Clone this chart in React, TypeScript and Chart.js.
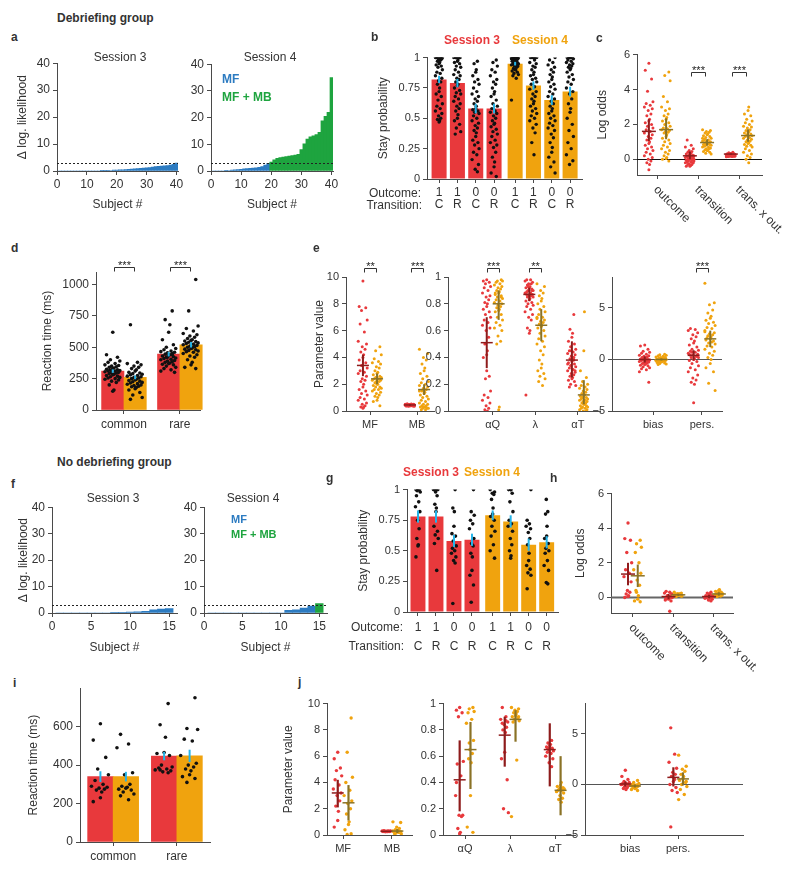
import React, { useEffect, useRef } from 'react';
import { Chart, registerables } from 'chart.js';

Chart.register(...registerables);

const FONT = 'Arial, "Liberation Sans", Helvetica, sans-serif';
Chart.defaults.font.family = FONT;
Chart.defaults.font.size = 11;
Chart.defaults.color = '#333';

const RED = '#E8393C';
const ORANGE = '#F0A30E';
const RED_D = '#8E1C1C';
const ORANGE_D = '#8A7226';
const CYAN = '#25B4E8';
const BLUE = '#2C7BC1';
const GREEN = '#1EA43F';
const AXIS = '#4a4a4a';
const TXT = '#333';
const DOT = '#111';

// ---------------- data ----------------
const THRESH = 3;
const LL_TICKS = [0, 10, 20, 30, 40];
const SUBJ_TICKS_A = [0, 10, 20, 30, 40];
const SUBJ_TICKS_F = [0, 5, 10, 15];
const A_S3 = [0, 0, 0, 0, 0, 0, 0, 0, 0, 0, 0, 0, 0, 0, 0.05, 0.1, 0.15, 0.2, 0.3, 0.35, 0.4, 0.45, 0.5, 0.6, 0.7, 0.8, 0.9, 1.0, 1.1, 1.2, 1.3, 1.45, 1.6, 1.7, 1.8, 1.9, 2.0, 2.2, 2.5, 2.9];
const A_S4 = [0, 0, 0, 0, 0.1, 0.2, 0.3, 0.4, 0.5, 0.6, 0.8, 0.9, 1.0, 1.1, 1.2, 1.4, 1.7, 2.2, 2.9, 3.3, 4.2, 4.7, 5.0, 5.2, 5.4, 5.6, 5.8, 6.0, 6.2, 8.0, 10.2, 12.0, 12.8, 13.2, 13.6, 14.5, 18.8, 20.5, 22.0, 35.0];
const F_S3 = [0, 0, 0, 0, 0, 0, 0, 0.15, 0.25, 0.35, 0.45, 0.6, 1.2, 1.5, 1.7];
const F_S4 = [0, 0, 0, 0, 0, 0, 0, 0, 0, 0, 1.0, 1.2, 1.9, 2.6, 3.6];

const STAY_OUT = ['1', '1', '0', '0', '1', '1', '0', '0'];
const STAY_TR = ['C', 'R', 'C', 'R', 'C', 'R', 'C', 'R'];
const STAY_SESSION = [3, 3, 3, 3, 4, 4, 4, 4];
const STAY_TICKS = [0, 0.25, 0.5, 0.75, 1];
const B_MEAN = [0.82, 0.79, 0.58, 0.58, 0.95, 0.77, 0.65, 0.72];
const B_SEM = [0.03, 0.035, 0.04, 0.04, 0.015, 0.035, 0.04, 0.04];
const B_DOTS = [
  [1, 1, 1, 1, 1, 1, 1, 1, .99, .98, .98, .97, .96, .95, .94, .93, .92, .9, .88, .87, .85, .83, .81, .8, .78, .75, .72, .7, .68, .65, .62, .6, .58, .56, .54, .52, .5, .49, .48, .47],
  [1, 1, 1, 1, 1, 1, 1, .98, .97, .96, .95, .93, .92, .9, .88, .86, .85, .83, .82, .8, .78, .77, .75, .73, .71, .7, .68, .66, .64, .62, .6, .58, .56, .53, .5, .48, .45, .42, .39, .37],
  [.97, .95, .9, .88, .85, .82, .8, .78, .75, .72, .7, .68, .66, .64, .62, .6, .58, .57, .56, .55, .54, .52, .5, .48, .46, .44, .42, .4, .38, .35, .32, .3, .28, .25, .22, .2, .16, .12, .08, .06],
  [.98, .96, .93, .9, .88, .85, .82, .8, .78, .75, .72, .7, .68, .65, .62, .6, .58, .56, .55, .54, .52, .5, .48, .46, .45, .43, .41, .39, .37, .35, .32, .3, .28, .26, .22, .18, .14, .1, .05, .02],
  [1, 1, 1, 1, 1, 1, 1, 1, 1, 1, 1, 1, .99, .99, .99, .98, .98, .98, .97, .97, .97, .96, .96, .95, .95, .94, .94, .93, .93, .92, .91, .9, .9, .89, .88, .87, .86, .85, .83, .65],
  [1, 1, 1, 1, 1, 1, 1, .98, .96, .95, .93, .92, .9, .88, .86, .85, .83, .82, .8, .78, .76, .74, .72, .7, .68, .66, .64, .62, .6, .58, .56, .54, .52, .5, .48, .45, .42, .38, .3, .2],
  [1, .98, .96, .94, .92, .9, .88, .86, .84, .82, .8, .78, .76, .74, .72, .7, .68, .66, .64, .62, .6, .58, .56, .54, .52, .5, .48, .46, .44, .42, .4, .37, .34, .3, .26, .22, .18, .14, .1, .05],
  [1, 1, 1, 1, 1, 1, 1, 1, .99, .98, .97, .96, .95, .94, .93, .92, .91, .9, .88, .86, .84, .82, .8, .78, .75, .72, .7, .66, .62, .58, .55, .5, .45, .4, .35, .3, .25, .2, .15, .12],
];
const G_MEAN = [0.78, 0.78, 0.58, 0.59, 0.79, 0.74, 0.55, 0.57];
const G_SEM = [0.05, 0.05, 0.05, 0.05, 0.04, 0.05, 0.05, 0.05];
const G_DOTS = [
  [1, 1, 1, .99, .98, .95, .9, .86, .82, .75, .68, .6, .55, .54, .45],
  [1, 1, 1, 1, .98, .95, .88, .85, .82, .7, .66, .63, .6, .56, .34],
  [1, .85, .82, .7, .64, .62, .58, .54, .52, .5, .48, .45, .42, .4, .07],
  [1, .82, .79, .75, .72, .68, .6, .56, .54, .48, .45, .34, .3, .22, .08],
  [1, .98, .97, .96, .92, .85, .8, .78, .75, .7, .66, .62, .55, .5, .44],
  [1, 1, 1, .97, .9, .82, .75, .72, .7, .66, .6, .55, .5, .46, .44],
  [1, .75, .72, .7, .68, .65, .6, .55, .48, .42, .38, .35, .32, .3, .19],
  [.92, .82, .8, .7, .62, .6, .56, .52, .5, .48, .42, .38, .34, .24, .23],
];

const LO_CATS = ['outcome', 'transition', 'trans. x out.'];
const LO_TICKS = [0, 2, 4, 6];
const C_S3 = [
  [5.5, 5.1, 4.6, 3.9, 3.3, 3.2, 3.1, 3.0, 2.9, 2.8, 2.6, 2.5, 2.3, 2.2, 2.1, 2.0, 1.9, 1.8, 1.7, 1.6, 1.5, 1.4, 1.3, 1.2, 1.1, 1.0, 0.9, 0.8, 0.7, 0.6, 0.5, 0.4, 0.3, 0.2, 0.1, 0.0, -0.1, -0.2, -0.3, -0.6],
  [1.1, 0.8, 0.7, 0.6, 0.5, 0.45, 0.4, 0.35, 0.3, 0.3, 0.25, 0.2, 0.2, 0.15, 0.15, 0.1, 0.1, 0.05, 0.05, 0, 0, 0, -0.05, -0.05, -0.1, -0.1, -0.15, -0.15, -0.2, -0.2, -0.25, -0.3, -0.3, -0.35, -0.4, -0.4, 0.1, 0.2, 0.0, -0.1],
  [0.4, 0.38, 0.35, 0.33, 0.32, 0.3, 0.3, 0.29, 0.28, 0.28, 0.27, 0.27, 0.26, 0.26, 0.25, 0.25, 0.25, 0.24, 0.24, 0.23, 0.23, 0.22, 0.22, 0.21, 0.21, 0.2, 0.2, 0.2, 0.19, 0.19, 0.18, 0.18, 0.17, 0.17, 0.16, 0.16, 0.15, 0.3, 0.25, 0.22],
];
const C_S4 = [
  [5.0, 4.8, 4.5, 3.6, 3.3, 3.0, 2.9, 2.8, 2.6, 2.5, 2.4, 2.3, 2.2, 2.1, 2.0, 1.9, 1.8, 1.75, 1.7, 1.65, 1.6, 1.55, 1.5, 1.4, 1.3, 1.2, 1.1, 1.0, 0.9, 0.8, 0.7, 0.6, 0.5, 0.4, 0.3, 0.2, 0.1, 0.05, 0.0, -0.1],
  [1.7, 1.65, 1.6, 1.55, 1.5, 1.45, 1.4, 1.35, 1.3, 1.25, 1.2, 1.15, 1.1, 1.05, 1.0, 1.0, 0.95, 0.95, 0.9, 0.9, 0.85, 0.85, 0.8, 0.8, 0.75, 0.7, 0.7, 0.65, 0.6, 0.6, 0.55, 0.5, 0.5, 0.45, 0.4, 0.35, 0.3, 1.1, 0.9, 1.2],
  [3.0, 2.8, 2.6, 2.5, 2.3, 2.2, 2.1, 2.0, 1.9, 1.85, 1.8, 1.7, 1.65, 1.6, 1.55, 1.5, 1.45, 1.4, 1.35, 1.3, 1.25, 1.2, 1.15, 1.1, 1.05, 1.0, 0.95, 0.9, 0.85, 0.8, 0.75, 0.7, 0.6, 0.5, 0.4, 0.3, 0.2, 0.1, 0.0, -0.2],
];
const C_M3 = [1.6, 0.2, 0.3];
const C_CI3 = [[1.05, 2.3], [0.0, 0.45], [0.25, 0.35]];
const C_M4 = [1.7, 0.96, 1.36];
const C_CI4 = [[1.15, 2.35], [0.78, 1.15], [1.0, 1.72]];
const C_SIG = ['', '***', '***'];

const H_S3 = [
  [4.3, 3.4, 3.3, 2.6, 2.0, 1.6, 1.4, 1.2, 0.9, 0.4, 0.3, 0.2, 0.1, 0.05, 0.0],
  [0.35, 0.3, 0.25, 0.2, 0.1, 0.05, 0, -0.05, -0.1, -0.15, -0.2, 0.1, 0.0, -0.05, -0.8],
  [0.3, 0.25, 0.2, 0.15, 0.1, 0.1, 0.05, 0.05, 0, 0, -0.05, -0.1, -0.15, -0.2, 0.05],
];
const H_S4 = [
  [3.3, 3.1, 2.9, 2.6, 2.0, 1.6, 1.4, 1.0, 0.7, 0.4, 0.1, -0.1, -0.2, -0.25, 0.3],
  [0.3, 0.25, 0.22, 0.2, 0.18, 0.15, 0.15, 0.12, 0.1, 0.1, 0.08, 0.05, 0.2, 0.15, 0.1],
  [0.45, 0.4, 0.35, 0.3, 0.25, 0.22, 0.2, 0.18, 0.15, 0.12, 0.1, 0.08, 0.05, 0.3, 0.2],
];
const H_M3 = [1.35, 0.05, 0.05];
const H_CI3 = [[0.7, 2.0], [-0.1, 0.2], [-0.05, 0.15]];
const H_M4 = [1.25, 0.15, 0.2];
const H_CI4 = [[0.6, 1.9], [0.08, 0.22], [0.1, 0.3]];

const RT_CATS = ['common', 'rare'];
const D_TICKS = [0, 250, 500, 750, 1000];
const D_M3 = [310, 445];
const D_M4 = [260, 520];
const D_SEM3 = [14, 18];
const D_SEM4 = [15, 22];
const D_S3 = [
  [620, 440, 420, 400, 390, 380, 370, 360, 355, 350, 345, 340, 335, 330, 325, 320, 318, 315, 312, 310, 305, 300, 298, 295, 290, 285, 280, 275, 270, 265, 260, 255, 250, 245, 240, 230, 220, 200, 160, 150],
  [790, 720, 680, 620, 560, 520, 500, 490, 480, 470, 465, 460, 455, 450, 445, 440, 435, 430, 425, 420, 415, 410, 405, 400, 395, 390, 385, 380, 375, 370, 365, 360, 350, 340, 330, 320, 310, 300, 420, 440],
];
const D_S4 = [
  [680, 380, 370, 360, 350, 340, 330, 320, 310, 300, 295, 290, 285, 280, 275, 270, 265, 260, 255, 250, 245, 240, 235, 230, 225, 220, 215, 210, 205, 200, 195, 190, 185, 180, 170, 160, 140, 120, 100, 85],
  [1040, 790, 670, 650, 630, 610, 600, 590, 580, 570, 560, 555, 550, 545, 540, 535, 530, 525, 520, 515, 510, 505, 500, 495, 490, 485, 480, 475, 470, 465, 460, 450, 440, 430, 420, 400, 380, 360, 340, 330],
];
const D_SIG = ['***', '***'];
const I_TICKS = [0, 200, 400, 600];
const I_M3 = [340, 447];
const I_M4 = [340, 448];
const I_SEM3 = [28, 22];
const I_SEM4 = [25, 32];
const I_S3 = [
  [615, 530, 440, 380, 350, 320, 300, 290, 285, 280, 275, 270, 260, 230, 210],
  [720, 610, 545, 465, 460, 450, 400, 390, 385, 380, 375, 370, 365, 360, 375],
];
const I_S4 = [
  [560, 510, 490, 360, 350, 300, 290, 285, 280, 275, 270, 260, 250, 240, 220],
  [750, 590, 585, 535, 525, 450, 410, 400, 390, 380, 370, 350, 340, 330, 310],
];

const P1_CATS = ['MF', 'MB'];
const P2_CATS = ['\u03b1Q', '\u03bb', '\u03b1T'];
const P3_CATS = ['bias', 'pers.'];
const P1_TICKS = [0, 2, 4, 6, 8, 10];
const P2_TICKS = [0, 0.2, 0.4, 0.6, 0.8, 1];
const P3_TICKS = [-5, 0, 5];

const E1_S3 = [
  [9.7, 7.8, 7.7, 7.5, 6.8, 6.5, 5.9, 5.2, 5.0, 4.8, 4.6, 4.4, 4.2, 4.0, 3.8, 3.6, 3.4, 3.2, 3.0, 2.9, 2.8, 2.6, 2.4, 2.3, 2.2, 2.0, 1.8, 1.6, 1.5, 1.3, 1.2, 1.0, 0.9, 0.8, 0.6, 0.5, 0.4, 0.3, 0.3, 0.2],
  [0.55, 0.52, 0.5, 0.5, 0.48, 0.48, 0.47, 0.46, 0.46, 0.45, 0.45, 0.45, 0.44, 0.44, 0.43, 0.43, 0.42, 0.42, 0.41, 0.4, 0.4, 0.39, 0.38, 0.37, 0.36, 0.35, 0.45, 0.46, 0.47, 0.44, 0.43, 0.42, 0.48, 0.5, 0.41, 0.4, 0.45, 0.44, 0.46, 0.43],
];
const E1_S4 = [
  [4.8, 4.5, 4.2, 3.9, 3.7, 3.6, 3.5, 3.3, 3.2, 3.0, 2.9, 2.8, 2.7, 2.6, 2.5, 2.5, 2.4, 2.4, 2.3, 2.3, 2.2, 2.2, 2.1, 2.0, 2.0, 1.9, 1.8, 1.8, 1.7, 1.6, 1.6, 1.5, 1.4, 1.3, 1.2, 1.1, 1.0, 0.8, 0.7, 0.4],
  [4.6, 4.3, 4.0, 3.8, 3.5, 3.2, 3.0, 2.8, 2.6, 2.4, 2.2, 2.1, 2.0, 1.9, 1.8, 1.7, 1.6, 1.5, 1.4, 1.3, 1.2, 1.1, 1.0, 0.9, 0.8, 0.7, 0.6, 0.5, 0.5, 0.4, 0.4, 0.3, 0.3, 0.3, 0.2, 0.2, 0.2, 0.1, 0.1, 1.5],
];
const E1_M3 = [3.4, 0.45];
const E1_CI3 = [[2.6, 4.2], [0.4, 0.5]];
const E1_M4 = [2.4, 1.6];
const E1_CI4 = [[2.0, 2.8], [1.2, 2.0]];
const E1_SIG = ['**', '***'];

const E2_S3 = [
  [0.98, 0.97, 0.96, 0.95, 0.93, 0.92, 0.9, 0.88, 0.86, 0.85, 0.83, 0.81, 0.8, 0.78, 0.76, 0.74, 0.72, 0.7, 0.68, 0.66, 0.64, 0.62, 0.6, 0.55, 0.5, 0.45, 0.42, 0.4, 0.26, 0.24, 0.15, 0.12, 0.1, 0.08, 0.06, 0.04, 0.02, 0.01, 0.0, 0.3],
  [0.98, 0.98, 0.97, 0.96, 0.95, 0.95, 0.94, 0.93, 0.92, 0.92, 0.91, 0.9, 0.9, 0.89, 0.88, 0.88, 0.87, 0.86, 0.86, 0.85, 0.84, 0.83, 0.82, 0.81, 0.8, 0.79, 0.78, 0.76, 0.74, 0.72, 0.7, 0.68, 0.62, 0.6, 0.58, 0.12, 0.9, 0.93, 0.85, 0.87],
  [0.72, 0.61, 0.58, 0.55, 0.52, 0.5, 0.48, 0.46, 0.45, 0.44, 0.43, 0.42, 0.41, 0.4, 0.39, 0.38, 0.37, 0.36, 0.35, 0.34, 0.33, 0.32, 0.31, 0.3, 0.29, 0.28, 0.27, 0.26, 0.25, 0.24, 0.23, 0.22, 0.2, 0.19, 0.18, 0.4, 0.35, 0.3, 0.45, 0.38],
];
const E2_S4 = [
  [0.98, 0.97, 0.97, 0.96, 0.95, 0.94, 0.93, 0.92, 0.91, 0.9, 0.89, 0.88, 0.87, 0.86, 0.85, 0.84, 0.83, 0.82, 0.81, 0.8, 0.79, 0.78, 0.77, 0.76, 0.75, 0.74, 0.72, 0.7, 0.68, 0.66, 0.64, 0.62, 0.6, 0.56, 0.52, 0.5, 0.03, 0.01, 0.88, 0.85],
  [0.95, 0.93, 0.9, 0.88, 0.86, 0.84, 0.82, 0.8, 0.78, 0.76, 0.74, 0.72, 0.7, 0.69, 0.68, 0.67, 0.66, 0.65, 0.64, 0.63, 0.62, 0.6, 0.58, 0.56, 0.54, 0.52, 0.5, 0.48, 0.45, 0.42, 0.38, 0.35, 0.32, 0.3, 0.28, 0.26, 0.24, 0.22, 0.19, 0.7],
  [0.74, 0.45, 0.3, 0.25, 0.22, 0.2, 0.19, 0.18, 0.17, 0.16, 0.15, 0.14, 0.13, 0.12, 0.12, 0.11, 0.1, 0.1, 0.09, 0.09, 0.08, 0.08, 0.07, 0.07, 0.06, 0.06, 0.05, 0.05, 0.04, 0.04, 0.03, 0.03, 0.02, 0.02, 0.01, 0.01, 0.0, 0.0, 0.1, 0.12],
];
const E2_M3 = [0.51, 0.87, 0.38];
const E2_CI3 = [[0.32, 0.7], [0.82, 0.92], [0.25, 0.52]];
const E2_M4 = [0.8, 0.64, 0.12];
const E2_CI4 = [[0.68, 0.9], [0.52, 0.76], [0.05, 0.23]];
const E2_SIG = ['***', '**', ''];

const E3_S3 = [
  [1.4, 1.3, 1.0, 0.8, 0.7, 0.6, 0.5, 0.4, 0.35, 0.3, 0.25, 0.2, 0.15, 0.1, 0.05, 0, 0, -0.05, -0.1, -0.15, -0.2, -0.25, -0.3, -0.35, -0.4, -0.45, -0.5, -0.55, -0.6, -0.7, -0.8, -0.9, -1.0, -1.2, -2.2, 0.1, -0.1, 0.2, -0.2, 0],
  [3.0, 2.9, 2.8, 2.6, 2.4, 2.2, 2.0, 1.8, 1.6, 1.4, 1.2, 1.0, 0.9, 0.8, 0.7, 0.6, 0.5, 0.4, 0.3, 0.2, 0.1, 0, -0.1, -0.2, -0.4, -0.6, -0.8, -1.0, -1.2, -1.5, -1.8, -2.0, -2.2, -2.4, -4.2, 0.5, 0.3, 0.7, 0.2, 0.4],
];
const E3_S4 = [
  [0.5, 0.45, 0.4, 0.35, 0.3, 0.25, 0.2, 0.18, 0.15, 0.12, 0.1, 0.08, 0.05, 0.03, 0, 0, -0.03, -0.05, -0.08, -0.1, -0.12, -0.15, -0.18, -0.2, -0.25, -0.3, -0.35, -0.4, -0.45, -0.5, 0.1, -0.1, 0.05, -0.05, 0.2, -0.2, 0.15, -0.15, 0, 0],
  [7.4, 5.5, 5.3, 4.8, 4.5, 4.2, 4.0, 3.8, 3.6, 3.5, 3.3, 3.1, 3.0, 2.8, 2.6, 2.5, 2.4, 2.3, 2.2, 2.0, 1.9, 1.8, 1.6, 1.5, 1.3, 1.2, 1.0, 0.8, 0.6, 0.4, 0.2, 0.0, -0.4, -0.8, -1.2, -2.3, -3.0, 2.1, 1.7, 2.7],
];
const E3_M3 = [0, 0.4];
const E3_CI3 = [[-0.3, 0.3], [-0.1, 0.9]];
const E3_M4 = [0, 2.0];
const E3_CI4 = [[-0.1, 0.1], [1.2, 2.8]];
const E3_SIG = ['', '***'];

const J1_S3 = [
  [6.3, 5.8, 5.1, 4.9, 4.5, 4.2, 3.8, 3.5, 3.2, 3.0, 2.6, 2.2, 1.8, 1.1, 0.6],
  [0.32, 0.3, 0.3, 0.29, 0.29, 0.28, 0.28, 0.27, 0.27, 0.26, 0.26, 0.25, 0.3, 0.28, 0.27],
];
const J1_S4 = [
  [8.9, 6.3, 4.4, 4.0, 3.4, 3.0, 2.6, 2.4, 2.0, 1.6, 1.0, 0.8, 0.4, 0.1, 0.05],
  [1.0, 0.95, 0.6, 0.5, 0.4, 0.35, 0.3, 0.25, 0.2, 0.15, 0.1, 0.1, 0.2, 0.3, 0.25],
];
const J1_M3 = [3.2, 0.28];
const J1_CI3 = [[2.1, 4.2], [0.26, 0.3]];
const J1_M4 = [2.45, 0.3];
const J1_CI4 = [[1.1, 3.8], [0.15, 0.45]];

const J2_S3 = [
  [0.97, 0.95, 0.93, 0.9, 0.56, 0.54, 0.45, 0.3, 0.15, 0.15, 0.14, 0.05, 0.02, 0.01, 0.4],
  [0.97, 0.9, 0.88, 0.86, 0.84, 0.82, 0.8, 0.78, 0.63, 0.58, 0.42, 0.2, 0.17, 0.85, 0.87],
  [0.72, 0.7, 0.69, 0.68, 0.67, 0.66, 0.65, 0.64, 0.63, 0.62, 0.6, 0.58, 0.55, 0.52, 0.66],
];
const J2_S4 = [
  [0.97, 0.96, 0.94, 0.93, 0.88, 0.85, 0.72, 0.65, 0.62, 0.58, 0.55, 0.3, 0.06, 0.02, 0.7],
  [0.97, 0.96, 0.95, 0.94, 0.93, 0.92, 0.91, 0.9, 0.89, 0.88, 0.87, 0.86, 0.57, 0.14, 0.9],
  [0.4, 0.38, 0.37, 0.36, 0.35, 0.35, 0.34, 0.34, 0.33, 0.32, 0.3, 0.28, 0.27, 0.25, 0.36],
];
const J2_M3 = [0.42, 0.76, 0.65];
const J2_CI3 = [[0.18, 0.72], [0.52, 0.9], [0.37, 0.85]];
const J2_M4 = [0.65, 0.88, 0.34];
const J2_CI4 = [[0.35, 0.86], [0.71, 0.95], [0.15, 0.6]];

const J3_S3 = [
  [1.4, 0.8, 0.5, 0.3, 0.2, 0.1, 0.05, 0, -0.1, -0.2, -0.3, -0.4, -0.5, 0.15, 0],
  [5.6, 3.0, 2.2, 1.6, 1.2, 1.0, 0.8, 0.6, 0.3, 0, -0.3, -0.6, -0.8, -4.2, 0.5],
];
const J3_S4 = [
  [0.4, 0.2, 0.1, 0, -0.05, -0.1, -0.15, -0.2, -0.25, -0.3, -0.35, -0.4, -0.5, -0.6, -0.1],
  [2.9, 1.8, 1.5, 1.3, 1.0, 0.8, 0.6, 0.4, 0.2, 0, -0.2, -0.5, -1.0, -1.5, 0.3],
];
const J3_M3 = [0.05, 0.7];
const J3_CI3 = [[-0.2, 0.3], [-0.2, 1.7]];
const J3_M4 = [-0.15, 0.55];
const J3_CI4 = [[-0.3, 0], [-0.1, 1.2]];

// ---------------- helpers ----------------
const JIT = [0, -0.8, 0.6, -0.3, 0.9, -0.6, 0.3, -1, 0.75, -0.15, 0.45, -0.45, 0.15];
const jit = (j: number, g: number) => JIT[(j + g * 5) % JIT.length];
const fmt = (v: number) => (v < 0 ? '\u2212' + Math.abs(v) : String(v));

type Geo = { x0: number; x1: number; yTop: number; yBot: number; L: number; B: number; padT?: number; padR?: number };
type Box = { left: number; top: number; width: number; height: number };

function boxOf(g: Geo): Box {
  const padT = g.padT ?? 8;
  const padR = g.padR ?? 8;
  return { left: g.L, top: g.yTop - padT, width: g.x1 + padR - g.L, height: g.B - (g.yTop - padT) };
}

type AxisSpec = {
  min: number; max: number; ticks: number[]; labels?: any[]; title?: string;
  pad?: number; size?: number; lineHeight?: any; hideLabels?: boolean; titleSize?: number;
};

function makeOptions(g: Geo, xs: AxisSpec, ys: AxisSpec) {
  const padT = g.padT ?? 8;
  const padR = g.padR ?? 8;
  const title = (t?: string, size?: number) =>
    t ? { display: true, text: t, padding: 0, font: { size: size ?? 12 }, color: TXT } : { display: false };
  const common = {
    grid: { display: true, drawOnChartArea: false, drawTicks: true, tickLength: 4, color: AXIS, lineWidth: 1, offset: false },
    border: { display: true, color: AXIS, width: 1 },
  };
  return {
    responsive: false,
    maintainAspectRatio: false,
    animation: false,
    events: [],
    layout: { padding: { top: padT, right: padR, left: 0, bottom: 0 } },
    plugins: { legend: { display: false }, tooltip: { enabled: false } },
    scales: {
      x: {
        type: 'linear', position: 'bottom', offset: false, min: xs.min, max: xs.max,
        afterFit: (s: any) => { s.height = g.B - g.yBot; },
        afterBuildTicks: (s: any) => { s.ticks = xs.ticks.map((v) => ({ value: v })); },
        ticks: {
          display: !xs.hideLabels, autoSkip: false, maxRotation: 0, minRotation: 0, padding: xs.pad ?? 3, color: TXT,
          font: { size: xs.size ?? 11, lineHeight: xs.lineHeight ?? 1.2 },
          callback: (v: number, i: number) => (xs.labels ? xs.labels[i] : fmt(v)),
        },
        ...common,
        title: title(xs.title, xs.titleSize),
      },
      y: {
        type: 'linear', position: 'left', min: ys.min, max: ys.max,
        afterFit: (s: any) => { s.width = g.x0 - g.L; },
        afterBuildTicks: (s: any) => { s.ticks = ys.ticks.map((v) => ({ value: v })); },
        ticks: { autoSkip: false, padding: ys.pad ?? 3, color: TXT, font: { size: ys.size ?? 11 }, callback: (v: number) => fmt(v) },
        ...common,
        title: title(ys.title, ys.titleSize),
      },
    },
  };
}

let pid = 0;
const hLine = (value: number, color: string, dash: number[], width: number, after: boolean) => {
  const draw = (chart: any) => {
    const { ctx, chartArea: a, scales } = chart;
    const py = Math.round(scales.y.getPixelForValue(value)) + 0.5;
    ctx.save();
    ctx.strokeStyle = color;
    ctx.lineWidth = width;
    ctx.setLineDash(dash);
    ctx.beginPath();
    ctx.moveTo(a.left, py);
    ctx.lineTo(a.right, py);
    ctx.stroke();
    ctx.restore();
  };
  return after ? { id: 'hl' + pid++, afterDatasetsDraw: draw } : { id: 'hl' + pid++, beforeDatasetsDraw: draw };
};

const sigMarks = (marks: string[], pos: (i: number) => number, dy: number, half: number) => ({
  id: 'sig' + pid++,
  afterDraw(chart: any) {
    const { ctx, chartArea: a, scales } = chart;
    ctx.save();
    ctx.strokeStyle = '#333';
    ctx.fillStyle = '#222';
    ctx.lineWidth = 1;
    ctx.font = `11px ${FONT}`;
    ctx.textAlign = 'center';
    ctx.textBaseline = 'alphabetic';
    marks.forEach((m, i) => {
      if (!m) return;
      const px = Math.round(scales.x.getPixelForValue(pos(i))) + 0.5;
      const py = Math.round(a.top + dy) + 0.5;
      ctx.beginPath();
      ctx.moveTo(px - half, py + 4);
      ctx.lineTo(px - half, py);
      ctx.lineTo(px + half, py);
      ctx.lineTo(px + half, py + 4);
      ctx.stroke();
      ctx.fillText(m, px, py + 1);
    });
    ctx.restore();
  },
});

const rotLabels = (labels: string[], size: number) => ({
  id: 'rot' + pid++,
  afterDraw(chart: any) {
    const { ctx, chartArea: a, scales } = chart;
    ctx.save();
    ctx.font = `${size}px ${FONT}`;
    ctx.fillStyle = TXT;
    ctx.textAlign = 'left';
    ctx.textBaseline = 'middle';
    labels.forEach((t, i) => {
      const px = scales.x.getPixelForValue(i);
      ctx.save();
      ctx.translate(px - 2, a.bottom + 13);
      ctx.rotate(Math.PI / 4);
      ctx.fillText(t, 0, 0);
      ctx.restore();
    });
    ctx.restore();
  },
});

const crossPlugin = (m3: number[], ci3: number[][], m4: number[], ci4: number[][], off: number, half: number, lw: number) => ({
  id: 'cross' + pid++,
  afterDatasetsDraw(chart: any) {
    const { ctx, scales } = chart;
    const { x, y } = scales;
    ctx.save();
    const draw = (m: number[], ci: number[][], dx: number, col: string) =>
      m.forEach((mv, i) => {
        const px = x.getPixelForValue(i + dx);
        ctx.strokeStyle = col;
        ctx.lineWidth = lw;
        ctx.beginPath();
        ctx.moveTo(px, y.getPixelForValue(ci[i][0]));
        ctx.lineTo(px, y.getPixelForValue(ci[i][1]));
        ctx.stroke();
        ctx.lineWidth = 1.5;
        ctx.beginPath();
        ctx.moveTo(px - half, y.getPixelForValue(mv));
        ctx.lineTo(px + half, y.getPixelForValue(mv));
        ctx.stroke();
      });
    draw(m3, ci3, -off, RED_D);
    draw(m4, ci4, off, ORANGE_D);
    ctx.restore();
  },
});

const semPlugin = (pos: number[], m: number[], sem: number[]) => ({
  id: 'sem' + pid++,
  afterDatasetsDraw(chart: any) {
    const { ctx, scales } = chart;
    ctx.save();
    ctx.strokeStyle = CYAN;
    ctx.lineWidth = 2;
    pos.forEach((p, i) => {
      const px = scales.x.getPixelForValue(p);
      ctx.beginPath();
      ctx.moveTo(px, scales.y.getPixelForValue(m[i] - sem[i]));
      ctx.lineTo(px, scales.y.getPixelForValue(m[i] + sem[i]));
      ctx.stroke();
    });
    ctx.restore();
  },
});

// Δ log-likelihood step bars (a, f)
function llChart(g: Geo, vals: number[], xticks: number[], xmax: number, ytitle?: string) {
  return {
    type: 'bar',
    data: {
      datasets: [{
        data: vals.map((v, i) => ({ x: i + 1, y: v })),
        backgroundColor: vals.map((v) => (v > THRESH ? GREEN : BLUE)),
        barPercentage: 1, categoryPercentage: 1, borderWidth: 0,
      }],
    },
    options: makeOptions(
      g,
      { min: 0, max: xmax, ticks: xticks, title: 'Subject #', size: 12, pad: 2 },
      { min: 0, max: 40, ticks: LL_TICKS, title: ytitle, size: 12 },
    ),
    plugins: [hLine(THRESH, '#222', [2, 2], 1, true)],
  };
}

type BD = {
  pos: number[]; h: number[]; col: string[]; sem: number[]; dots: number[][];
  frac: number; amp: number; r: number; x: AxisSpec; y: AxisSpec;
  sig?: string[]; sigPos?: (i: number) => number; sigDy?: number; sigHalf?: number;
};

function barDots(g: Geo, o: BD) {
  const pts: any[] = [];
  o.dots.forEach((arr, i) => arr.forEach((v, j) => pts.push({ x: o.pos[i] + jit(j, i) * o.amp, y: v })));
  const plugins: any[] = [semPlugin(o.pos, o.h, o.sem)];
  if (o.sig) plugins.push(sigMarks(o.sig, o.sigPos!, o.sigDy!, o.sigHalf!));
  return {
    type: 'bar',
    data: {
      datasets: [
        { type: 'scatter', data: pts, backgroundColor: DOT, pointRadius: o.r, borderWidth: 0, order: 1 },
        { type: 'bar', data: o.pos.map((x, i) => ({ x, y: o.h[i] })), backgroundColor: o.col, barPercentage: 1, categoryPercentage: o.frac, borderWidth: 0, order: 2, clip: false },
      ],
    },
    options: makeOptions(g, o.x, o.y),
    plugins,
  };
}

type Strip = { cats: string[]; s3: number[][]; s4: number[][]; m3: number[]; ci3: number[][]; m4: number[]; ci4: number[][] };
type StripOpt = {
  xmin: number; xmax: number; ymin: number; ymax: number; yticks: number[]; ytitle?: string;
  off: number; amp: number; r: number; half: number; lw: number;
  zero?: { color: string; width: number }; sig?: string[]; sigDy?: number; sigHalf?: number; rot?: boolean;
};

function stripChart(g: Geo, d: Strip, o: StripOpt) {
  const p3: any[] = [];
  const p4: any[] = [];
  d.s3.forEach((arr, i) => arr.forEach((v, j) => p3.push({ x: i - o.off + jit(j, i) * o.amp, y: v })));
  d.s4.forEach((arr, i) => arr.forEach((v, j) => p4.push({ x: i + o.off + jit(j, i + 3) * o.amp, y: v })));
  const plugins: any[] = [];
  if (o.zero) plugins.push(hLine(0, o.zero.color, [], o.zero.width, false));
  plugins.push(crossPlugin(d.m3, d.ci3, d.m4, d.ci4, o.off, o.half, o.lw));
  if (o.sig) plugins.push(sigMarks(o.sig, (i) => i, o.sigDy!, o.sigHalf!));
  if (o.rot) plugins.push(rotLabels(d.cats, 12));
  return {
    type: 'scatter',
    data: {
      datasets: [
        { data: p3, backgroundColor: RED, pointRadius: o.r, borderWidth: 0 },
        { data: p4, backgroundColor: ORANGE, pointRadius: o.r, borderWidth: 0 },
      ],
    },
    options: makeOptions(
      g,
      { min: o.xmin, max: o.xmax, ticks: d.cats.map((_, i) => i), labels: d.cats, hideLabels: !!o.rot },
      { min: o.ymin, max: o.ymax, ticks: o.yticks, title: o.ytitle },
    ),
    plugins,
  };
}

// ---------------- layout ----------------
const GEO: Record<string, Geo> = {
  a1: { x0: 57, x1: 178, yTop: 61, yBot: 171, L: 15, B: 212, padR: 10 },
  a2: { x0: 211, x1: 333, yTop: 62, yBot: 171, L: 181, B: 212, padR: 10 },
  b: { x0: 427, x1: 582, yTop: 56, yBot: 179, L: 376, B: 216, padR: 6 },
  c: { x0: 637, x1: 762, yTop: 53, yBot: 175, L: 595, B: 252, padR: 34 },
  d: { x0: 96, x1: 200, yTop: 272, yBot: 410, L: 40, B: 432, padT: 20, padR: 10 },
  e1: { x0: 346, x1: 434, yTop: 277, yBot: 411, L: 312, B: 434, padT: 24 },
  e2: { x0: 448, x1: 600, yTop: 277, yBot: 411, L: 418, B: 434, padT: 24 },
  e3: { x0: 612, x1: 722, yTop: 277, yBot: 411, L: 585, B: 434, padT: 24 },
  f1: { x0: 52, x1: 177, yTop: 505, yBot: 613, L: 16, B: 655 },
  f2: { x0: 204, x1: 327, yTop: 505, yBot: 613, L: 174, B: 655 },
  g: { x0: 407, x1: 558, yTop: 488, yBot: 612, L: 356, B: 656 },
  h: { x0: 611, x1: 733, yTop: 492, yBot: 613, L: 573, B: 682, padR: 40 },
  i: { x0: 80, x1: 210, yTop: 686, yBot: 842, L: 26, B: 864 },
  j1: { x0: 327, x1: 412, yTop: 702, yBot: 835, L: 281, B: 858 },
  j2: { x0: 443, x1: 575, yTop: 702, yBot: 835, L: 413, B: 858 },
  j3: { x0: 585, x1: 743, yTop: 702, yBot: 835, L: 558, B: 858 },
};

const stayX = (i: number) => i + (i >= 4 ? 0.15 : 0);
const stayLabels = STAY_OUT.map((o, i) => [o, STAY_TR[i]]);
const stayCol = STAY_SESSION.map((s) => (s === 3 ? RED : ORANGE));

function rtChart(g: Geo, m3: number[], m4: number[], s3: number[], s4: number[], d3: number[][], d4: number[][], yticks: number[], ymax: number, xmin: number, xmax: number, sig?: string[]) {
  const pos = RT_CATS.flatMap((_, k) => [k - 0.2, k + 0.2]);
  return barDots(g, {
    pos,
    h: RT_CATS.flatMap((_, k) => [m3[k], m4[k]]),
    col: RT_CATS.flatMap(() => [RED, ORANGE]),
    sem: RT_CATS.flatMap((_, k) => [s3[k], s4[k]]),
    dots: RT_CATS.flatMap((_, k) => [d3[k], d4[k]]),
    frac: 1, amp: 0.14, r: 1.8,
    x: { min: xmin, max: xmax, ticks: RT_CATS.map((_, k) => k), labels: RT_CATS, size: 12, pad: 3 },
    y: { min: 0, max: ymax, ticks: yticks, title: 'Reaction time (ms)', size: 12 },
    sig, sigPos: (k) => k, sigDy: -5, sigHalf: 10,
  });
}

const PANELS: { key: string; make: () => any }[] = [
  { key: 'a1', make: () => llChart(GEO.a1, A_S3, SUBJ_TICKS_A, 40.5, '\u0394 log. likelihood') },
  { key: 'a2', make: () => llChart(GEO.a2, A_S4, SUBJ_TICKS_A, 40.5) },
  { key: 'f1', make: () => llChart(GEO.f1, F_S3, SUBJ_TICKS_F, 16, '\u0394 log. likelihood') },
  { key: 'f2', make: () => llChart(GEO.f2, F_S4, SUBJ_TICKS_F, 16) },
  {
    key: 'b',
    make: () => barDots(GEO.b, {
      pos: B_MEAN.map((_, i) => stayX(i)), h: B_MEAN, col: stayCol, sem: B_SEM, dots: B_DOTS,
      frac: 0.82, amp: 0.2, r: 1.7,
      x: { min: -0.66, max: 7.8, ticks: B_MEAN.map((_, i) => stayX(i)), labels: stayLabels, size: 12, pad: 4, lineHeight: '12px' },
      y: { min: 0, max: 1, ticks: STAY_TICKS, title: 'Stay probability', size: 11 },
    }),
  },
  {
    key: 'g',
    make: () => barDots(GEO.g, {
      pos: G_MEAN.map((_, i) => stayX(i)), h: G_MEAN, col: stayCol, sem: G_SEM, dots: G_DOTS,
      frac: 0.83, amp: 0.14, r: 1.8,
      x: { min: -0.61, max: 7.78, ticks: G_MEAN.map((_, i) => stayX(i)), labels: stayLabels, size: 12, pad: 2, lineHeight: '19px' },
      y: { min: 0, max: 1, ticks: STAY_TICKS, title: 'Stay probability', size: 11 },
    }),
  },
  {
    key: 'c',
    make: () => stripChart(GEO.c, { cats: LO_CATS, s3: C_S3, s4: C_S4, m3: C_M3, ci3: C_CI3, m4: C_M4, ci4: C_CI4 }, {
      xmin: -0.5, xmax: 2.55, ymin: -0.9, ymax: 6, yticks: LO_TICKS, ytitle: 'Log odds',
      off: 0.21, amp: 0.11, r: 1.5, half: 7, lw: 2, zero: { color: '#111', width: 1.2 },
      sig: C_SIG, sigDy: 17, sigHalf: 7, rot: true,
    }),
  },
  {
    key: 'h',
    make: () => stripChart(GEO.h, { cats: LO_CATS, s3: H_S3, s4: H_S4, m3: H_M3, ci3: H_CI3, m4: H_M4, ci4: H_CI4 }, {
      xmin: -0.54, xmax: 2.47, ymin: -0.9, ymax: 6, yticks: LO_TICKS, ytitle: 'Log odds',
      off: 0.12, amp: 0.1, r: 1.7, half: 7, lw: 2, zero: { color: '#666', width: 2 }, rot: true,
    }),
  },
  { key: 'd', make: () => rtChart(GEO.d, D_M3, D_M4, D_SEM3, D_SEM4, D_S3, D_S4, D_TICKS, 1100, -0.5, 1.36, D_SIG) },
  { key: 'i', make: () => rtChart(GEO.i, I_M3, I_M4, I_SEM3, I_SEM4, I_S3, I_S4, I_TICKS, 800, -0.52, 1.52) },
  {
    key: 'e1',
    make: () => stripChart(GEO.e1, { cats: P1_CATS, s3: E1_S3, s4: E1_S4, m3: E1_M3, ci3: E1_CI3, m4: E1_M4, ci4: E1_CI4 }, {
      xmin: -0.51, xmax: 1.36, ymin: 0, ymax: 10, yticks: P1_TICKS, ytitle: 'Parameter value',
      off: 0.15, amp: 0.1, r: 1.5, half: 6, lw: 2, sig: E1_SIG, sigDy: -9, sigHalf: 6,
    }),
  },
  {
    key: 'e2',
    make: () => stripChart(GEO.e2, { cats: P2_CATS, s3: E2_S3, s4: E2_S4, m3: E2_M3, ci3: E2_CI3, m4: E2_M4, ci4: E2_CI4 }, {
      xmin: -1.05, xmax: 2.52, ymin: 0, ymax: 1, yticks: P2_TICKS,
      off: 0.14, amp: 0.1, r: 1.5, half: 6, lw: 2, sig: E2_SIG, sigDy: -9, sigHalf: 6,
    }),
  },
  {
    key: 'e3',
    make: () => stripChart(GEO.e3, { cats: P3_CATS, s3: E3_S3, s4: E3_S4, m3: E3_M3, ci3: E3_CI3, m4: E3_M4, ci4: E3_CI4 }, {
      xmin: -0.84, xmax: 1.41, ymin: -5, ymax: 8, yticks: P3_TICKS,
      off: 0.17, amp: 0.11, r: 1.5, half: 6, lw: 2, zero: { color: '#555', width: 1.2 }, sig: E3_SIG, sigDy: -9, sigHalf: 6,
    }),
  },
  {
    key: 'j1',
    make: () => stripChart(GEO.j1, { cats: P1_CATS, s3: J1_S3, s4: J1_S4, m3: J1_M3, ci3: J1_CI3, m4: J1_M4, ci4: J1_CI4 }, {
      xmin: -0.33, xmax: 1.41, ymin: 0, ymax: 10, yticks: P1_TICKS, ytitle: 'Parameter value',
      off: 0.11, amp: 0.09, r: 1.7, half: 6, lw: 2.2,
    }),
  },
  {
    key: 'j2',
    make: () => stripChart(GEO.j2, { cats: P2_CATS, s3: J2_S3, s4: J2_S4, m3: J2_M3, ci3: J2_CI3, m4: J2_M4, ci4: J2_CI4 }, {
      xmin: -0.49, xmax: 2.44, ymin: 0, ymax: 1, yticks: P2_TICKS,
      off: 0.12, amp: 0.09, r: 1.7, half: 6, lw: 2.2,
    }),
  },
  {
    key: 'j3',
    make: () => stripChart(GEO.j3, { cats: P3_CATS, s3: J3_S3, s4: J3_S4, m3: J3_M3, ci3: J3_CI3, m4: J3_M4, ci4: J3_CI4 }, {
      xmin: -0.94, xmax: 2.35, ymin: -5, ymax: 8, yticks: P3_TICKS,
      off: 0.1, amp: 0.09, r: 1.7, half: 6, lw: 2.2, zero: { color: '#555', width: 1.2 },
    }),
  },
];

type Lbl = { t: string; x: number; y: number; b?: boolean; s?: number; c?: string; a?: 'l' | 'c' | 'r' };
const LABELS: Lbl[] = [
  { t: 'Debriefing group', x: 57, y: 18, b: true, s: 12 },
  { t: 'a', x: 11, y: 37, b: true, s: 12 },
  { t: 'b', x: 371, y: 37, b: true, s: 12 },
  { t: 'c', x: 596, y: 38, b: true, s: 12 },
  { t: 'd', x: 11, y: 248, b: true, s: 12 },
  { t: 'e', x: 313, y: 248, b: true, s: 12 },
  { t: 'No debriefing group', x: 57, y: 462, b: true, s: 12 },
  { t: 'f', x: 11, y: 484, b: true, s: 12 },
  { t: 'g', x: 326, y: 478, b: true, s: 12 },
  { t: 'h', x: 550, y: 478, b: true, s: 12 },
  { t: 'i', x: 13, y: 683, b: true, s: 12 },
  { t: 'j', x: 298, y: 682, b: true, s: 12 },
  { t: 'Session 3', x: 120, y: 57, s: 12, a: 'c' },
  { t: 'Session 4', x: 270, y: 57, s: 12, a: 'c' },
  { t: 'MF', x: 222, y: 79, s: 12, b: true, c: BLUE },
  { t: 'MF + MB', x: 222, y: 97, s: 12, b: true, c: GREEN },
  { t: 'Session 3', x: 113, y: 498, s: 12, a: 'c' },
  { t: 'Session 4', x: 253, y: 498, s: 12, a: 'c' },
  { t: 'MF', x: 231, y: 519, s: 11, b: true, c: BLUE },
  { t: 'MF + MB', x: 231, y: 534, s: 11, b: true, c: GREEN },
  { t: 'Session 3', x: 472, y: 40, s: 12, b: true, c: RED, a: 'c' },
  { t: 'Session 4', x: 540, y: 40, s: 12, b: true, c: ORANGE, a: 'c' },
  { t: 'Session 3', x: 431, y: 472, s: 12, b: true, c: RED, a: 'c' },
  { t: 'Session 4', x: 492, y: 472, s: 12, b: true, c: ORANGE, a: 'c' },
  { t: 'Outcome:', x: 421, y: 193, s: 12, a: 'r' },
  { t: 'Transition:', x: 422, y: 205, s: 12, a: 'r' },
  { t: 'Outcome:', x: 403, y: 627, s: 12, a: 'r' },
  { t: 'Transition:', x: 404, y: 646, s: 12, a: 'r' },
];

function ChartCanvas({ box, make }: { box: Box; make: () => any }) {
  const ref = useRef<HTMLCanvasElement>(null);
  useEffect(() => {
    const chart = new Chart(ref.current as HTMLCanvasElement, make());
    return () => chart.destroy();
  }, []);
  return (
    <canvas
      ref={ref}
      width={box.width}
      height={box.height}
      style={{ position: 'absolute', left: box.left, top: box.top, width: box.width, height: box.height }}
    />
  );
}

export default function App() {
  return (
    <div style={{ position: 'absolute', left: 0, top: 0, width: 800, height: 873, background: '#fff', overflow: 'hidden', fontFamily: FONT }}>
      {PANELS.map((p) => (
        <ChartCanvas key={p.key} box={boxOf(GEO[p.key])} make={p.make} />
      ))}
      {LABELS.map((l, k) => {
        const a = l.a ?? 'l';
        const tx = a === 'c' ? '-50%' : a === 'r' ? '-100%' : '0';
        return (
          <div
            key={k}
            style={{
              position: 'absolute', left: l.x, top: l.y, transform: `translate(${tx}, -50%)`,
              whiteSpace: 'nowrap', lineHeight: 1, fontSize: l.s ?? 12, fontWeight: l.b ? 700 : 400,
              color: l.c ?? TXT,
            }}
          >
            {l.t}
          </div>
        );
      })}
    </div>
  );
}
